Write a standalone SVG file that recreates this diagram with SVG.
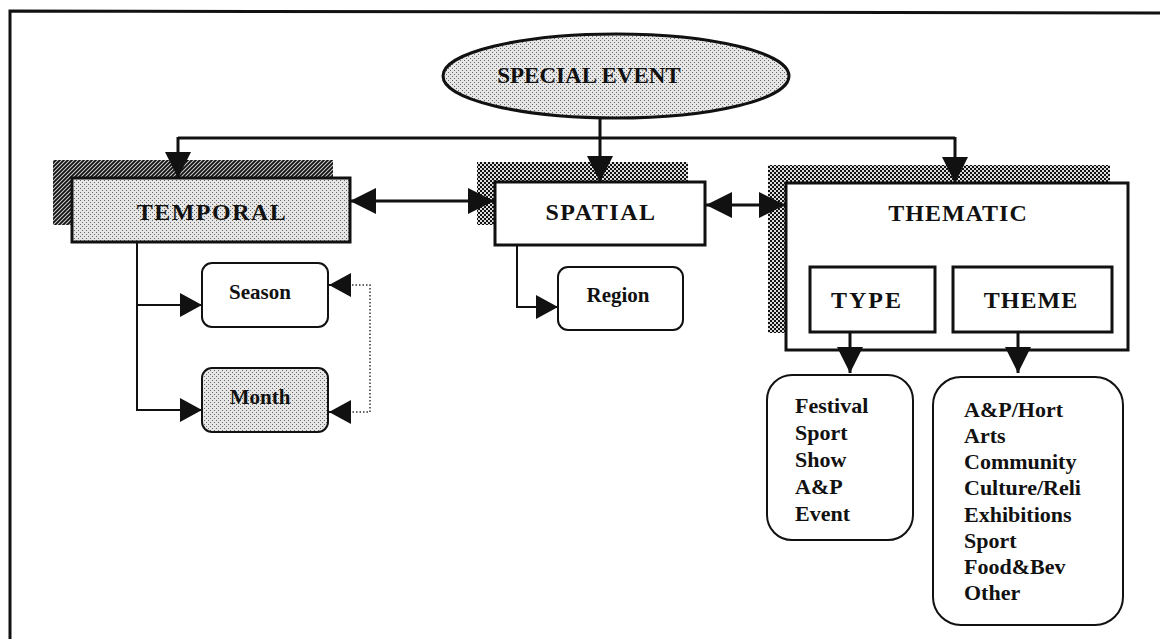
<svg xmlns="http://www.w3.org/2000/svg" width="1160" height="639" viewBox="0 0 1160 639">
<style>
text{font-family:"Liberation Serif","Times New Roman",serif;font-weight:bold;fill:#111}
.h{font-size:24px;text-anchor:middle}
.s{font-size:21px;text-anchor:middle}
.l{font-size:22px}
.box{stroke:#111;stroke-width:3}
.rb{fill:#fff;stroke:#111;stroke-width:2}
.c{fill:none;stroke:#111;stroke-width:3}
.c2{fill:none;stroke:#111;stroke-width:2}
.dot{fill:none;stroke:#333;stroke-width:1.5;stroke-dasharray:1.5 2}
</style>
<defs>
<pattern id="stip" width="4" height="4" patternUnits="userSpaceOnUse"><rect width="4" height="4" fill="#e6e6e6"/><rect width="1" height="1" fill="#666"/><rect x="2" y="2" width="1" height="1" fill="#666"/></pattern>
<pattern id="chk" width="4" height="4" patternUnits="userSpaceOnUse"><rect width="4" height="4" fill="#111"/><rect width="2" height="2" fill="#ddd"/><rect x="2" y="2" width="2" height="2" fill="#ddd"/></pattern>
<pattern id="hat" width="4" height="4" patternUnits="userSpaceOnUse"><rect width="4" height="4" fill="#ccc"/><path d="M0,4 L4,0 M-1,1 L1,-1 M3,5 L5,3" stroke="#111" stroke-width="1.8"/></pattern>
<marker id="ah" markerUnits="userSpaceOnUse" markerWidth="28" markerHeight="28" refX="26" refY="13" orient="auto-start-reverse" viewBox="0 0 28 26"><path d="M0,0 L26,13 L0,26 z" fill="#111"/></marker>
<marker id="as" markerUnits="userSpaceOnUse" markerWidth="24" markerHeight="24" refX="22" refY="12" orient="auto-start-reverse" viewBox="0 0 24 24"><path d="M0,0 L22,12 L0,24 z" fill="#111"/></marker>
</defs>
<rect width="1160" height="639" fill="#fff"/>
<g id="frame">
<path d="M10,639 L10,11 L1160,13" fill="none" stroke="#111" stroke-width="3"/>
</g>
<g id="special-event">
<ellipse cx="616" cy="76" rx="173" ry="42" fill="url(#stip)" stroke="#111" stroke-width="3"/>
<text class="h" x="589" y="83" style="font-size:23px">SPECIAL EVENT</text>
</g>
<g id="temporal">
<rect x="53" y="160" width="280" height="65" fill="url(#hat)"/>
<rect class="box" x="72" y="178" width="278" height="64" fill="url(#stip)"/>
<text class="h" x="212" y="220" letter-spacing="1.5">TEMPORAL</text>
</g>
<g id="spatial">
<rect x="477" y="162" width="211" height="63" fill="url(#chk)"/>
<rect class="box" x="495" y="182" width="210" height="63" fill="#fff"/>
<text class="h" x="601" y="220" letter-spacing="1.5">SPATIAL</text>
</g>
<g id="thematic">
<rect x="768" y="165" width="342" height="168" fill="url(#chk)"/>
<rect class="box" x="786" y="183" width="342" height="167" fill="#fff"/>
<text class="h" x="958" y="221" letter-spacing="1">THEMATIC</text>
</g>
<g id="type">
<rect class="box" x="810" y="267" width="125" height="65" fill="#fff"/>
<text class="h" x="867" y="308" letter-spacing="2">TYPE</text>
</g>
<g id="theme">
<rect class="box" x="953" y="267" width="159" height="65" fill="#fff"/>
<text class="h" x="1031" y="308" letter-spacing="1">THEME</text>
</g>
<g id="season">
<rect class="rb" x="202" y="263" width="126" height="64" rx="10"/>
<text class="s" x="260" y="299">Season</text>
</g>
<g id="month">
<rect class="rb" x="202" y="368" width="126" height="64" rx="10" style="fill:url(#stip)"/>
<text class="s" x="260" y="404">Month</text>
</g>
<g id="region">
<rect class="rb" x="558" y="267" width="125" height="63" rx="10"/>
<text class="s" x="618" y="302">Region</text>
</g>
<g id="type-list">
<rect class="rb" x="767" y="375" width="146" height="165" rx="25"/>
<text class="l" x="795" y="413">Festival</text>
<text class="l" x="795" y="440">Sport</text>
<text class="l" x="795" y="467">Show</text>
<text class="l" x="795" y="494">A&amp;P</text>
<text class="l" x="795" y="521">Event</text>
</g>
<g id="theme-list">
<rect class="rb" x="933" y="377" width="190" height="248" rx="28"/>
<text class="l" x="964" y="417">A&amp;P/Hort</text>
<text class="l" x="964" y="443">Arts</text>
<text class="l" x="964" y="469">Community</text>
<text class="l" x="964" y="495">Culture/Reli</text>
<text class="l" x="964" y="522">Exhibitions</text>
<text class="l" x="964" y="548">Sport</text>
<text class="l" x="964" y="574">Food&amp;Bev</text>
<text class="l" x="964" y="600">Other</text>
</g>
<g id="connectors">
<line class="c" x1="600" y1="118" x2="600" y2="138"/>
<path class="c" d="M178,138 L955,138"/>
<line class="c" x1="178" y1="137" x2="178" y2="178" marker-end="url(#ah)"/>
<line class="c" x1="600" y1="137" x2="600" y2="182" marker-end="url(#ah)"/>
<line class="c" x1="955" y1="137" x2="955" y2="183" marker-end="url(#ah)"/>
<line class="c" x1="350" y1="201" x2="494" y2="201" marker-start="url(#ah)" marker-end="url(#ah)"/>
<line class="c" x1="706" y1="205" x2="785" y2="205" marker-start="url(#ah)" marker-end="url(#ah)"/>
<path class="c2" d="M137,242 L137,410"/>
<line class="c2" x1="136" y1="305" x2="202" y2="305" marker-end="url(#as)"/>
<line class="c2" x1="136" y1="410" x2="202" y2="410" marker-end="url(#as)"/>
<path class="dot" d="M345,285 L370,285 L370,412 L345,412"/>
<line class="c2" x1="350" y1="285" x2="329" y2="285" marker-end="url(#as)"/>
<line class="c2" x1="350" y1="412" x2="329" y2="412" marker-end="url(#as)"/>
<path class="c2" d="M517,245 L517,307"/>
<line class="c2" x1="516" y1="307" x2="558" y2="307" marker-end="url(#as)"/>
<line class="c" x1="850" y1="332" x2="850" y2="373" marker-end="url(#ah)"/>
<line class="c" x1="1018" y1="332" x2="1018" y2="373" marker-end="url(#ah)"/>
</g>
</svg>
